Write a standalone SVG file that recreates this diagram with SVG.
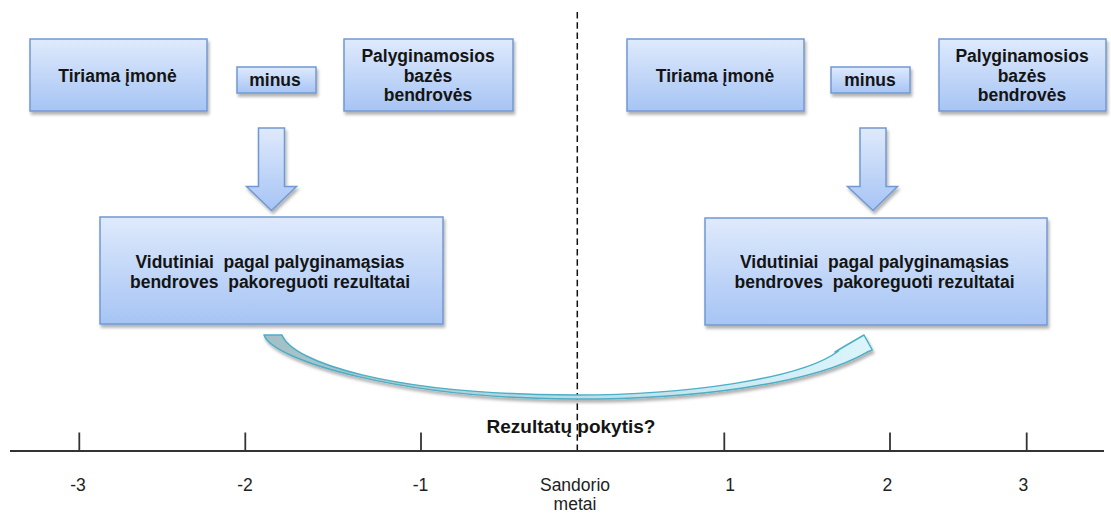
<svg xmlns="http://www.w3.org/2000/svg" width="1111" height="513" viewBox="0 0 1111 513">
<defs>
<linearGradient id="boxGrad" x1="0" y1="0" x2="0" y2="1">
<stop offset="0" stop-color="#dfeafc"/>
<stop offset="1" stop-color="#a6c4f4"/>
</linearGradient>
<linearGradient id="curveGrad" x1="0" y1="0" x2="1" y2="0">
<stop offset="0" stop-color="#a3bfc5"/>
<stop offset="0.5" stop-color="#b9dde6"/>
<stop offset="1" stop-color="#dcf5fc"/>
</linearGradient>
<filter id="shadow" x="-10%" y="-10%" width="120%" height="130%">
<feDropShadow dx="1.5" dy="3" stdDeviation="1.5" flood-color="#000" flood-opacity="0.3"/>
</filter>
<style>
.box{fill:url(#boxGrad);stroke:#7298d2;stroke-width:1.5;filter:url(#shadow)}
.arr{fill:url(#boxGrad);stroke:#7298d2;stroke-width:1.5;filter:url(#shadow)}
.t{font-family:"Liberation Sans",Arial,sans-serif;font-weight:bold;font-size:17.5px;fill:#141414;text-anchor:middle;white-space:pre}
.lab{font-family:"Liberation Sans",Arial,sans-serif;font-size:17.5px;fill:#222;text-anchor:middle}
.axis{stroke:#333;stroke-width:1.8;fill:none}
</style>
</defs>
<rect width="1111" height="513" fill="#ffffff"/>

<g id="divider">
<line x1="577.3" y1="12" x2="577.3" y2="452" stroke="#111" stroke-width="1.5" stroke-dasharray="6.5,3.8"/>
</g>

<g id="node-tiriama-left">
<rect class="box" x="30" y="39" width="177" height="72"/>
<text class="t" x="117.5" y="81.5">Tiriama įmonė</text>
</g>
<g id="node-minus-left">
<rect class="box" x="237" y="67" width="79" height="26"/>
<text class="t" x="275" y="85.7">minus</text>
</g>
<g id="node-palyg-left">
<rect class="box" x="344" y="39" width="169" height="72"/>
<text class="t" x="428" y="62.3">Palyginamosios</text>
<text class="t" x="428" y="81.5">bazės</text>
<text class="t" x="428" y="100.7">bendrovės</text>
</g>
<g id="node-vidutiniai-left">
<rect class="box" x="100" y="217" width="343" height="107"/>
<text class="t" x="270" y="268.3">Vidutiniai  pagal palyginamąsias</text>
<text class="t" x="270" y="287.7">bendroves  pakoreguoti rezultatai</text>
</g>

<g id="node-tiriama-right">
<rect class="box" x="627" y="39" width="177" height="72"/>
<text class="t" x="715" y="81.5">Tiriama įmonė</text>
</g>
<g id="node-minus-right">
<rect class="box" x="831" y="67" width="79" height="26"/>
<text class="t" x="870" y="85.7">minus</text>
</g>
<g id="node-palyg-right">
<rect class="box" x="939" y="39" width="167" height="72"/>
<text class="t" x="1022" y="62.3">Palyginamosios</text>
<text class="t" x="1022" y="81.5">bazės</text>
<text class="t" x="1022" y="100.7">bendrovės</text>
</g>
<g id="node-vidutiniai-right">
<rect class="box" x="705" y="218" width="342" height="107"/>
<text class="t" x="874.5" y="268.3">Vidutiniai  pagal palyginamąsias</text>
<text class="t" x="874.5" y="287.7">bendroves  pakoreguoti rezultatai</text>
</g>

<g id="connectors">
<path class="arr" d="M258.5,128 H284.5 V186.5 H296.5 L271.5,210.5 L246.5,186.5 H258.5 Z"/>
<path class="arr" d="M860,128 H886 V186.5 H897.5 L873,210.5 L847.5,186.5 H860 Z"/>
<path d="M264,335 L282,335 C292,362 390,395 577,395 C680,395 800,380 838.5,351 L835,352 L845,346 L864,335 L872.3,350 L866.7,352.3 C810,385 690,399 577,399 C400,399 272,360 264,335 Z" fill="url(#curveGrad)" stroke="#4eaec6" stroke-width="1.5" stroke-linejoin="round" filter="url(#shadow)"/>
</g>

<g id="timeline">
<line class="axis" x1="10" y1="451" x2="1104" y2="451"/>
<line class="axis" x1="79.3" y1="432.5" x2="79.3" y2="451"/>
<line class="axis" x1="245.3" y1="432.5" x2="245.3" y2="451"/>
<line class="axis" x1="421" y1="432.5" x2="421" y2="451"/>
<line class="axis" x1="724.3" y1="432.5" x2="724.3" y2="451"/>
<line class="axis" x1="890" y1="432.5" x2="890" y2="451"/>
<line class="axis" x1="1026.7" y1="432.5" x2="1026.7" y2="451"/>
<text class="lab" x="78" y="491">-3</text>
<text class="lab" x="245" y="491">-2</text>
<text class="lab" x="420.5" y="491">-1</text>
<text class="lab" x="575" y="491">Sandorio</text>
<text class="lab" x="575" y="510">metai</text>
<text class="lab" x="730" y="491">1</text>
<text class="lab" x="887.3" y="491">2</text>
<text class="lab" x="1023.3" y="491">3</text>
</g>

<g id="label-rezultatu">
<text class="t" x="571" y="432.7" style="font-size:19px">Rezultatų pokytis?</text>
</g>
</svg>
